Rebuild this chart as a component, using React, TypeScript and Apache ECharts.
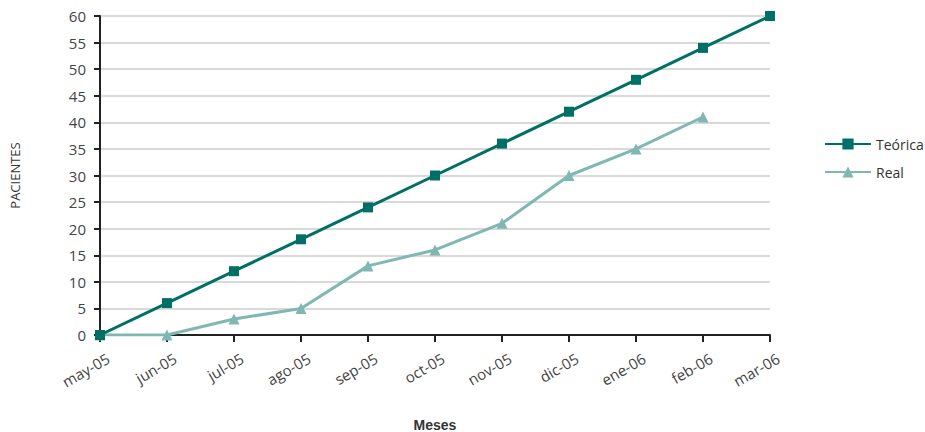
import React, { useEffect, useRef } from "react";
import * as echarts from "echarts";

const months = ["may-05", "jun-05", "jul-05", "ago-05", "sep-05", "oct-05", "nov-05", "dic-05", "ene-06", "feb-06", "mar-06"];
const teorica = [0, 6, 12, 18, 24, 30, 36, 42, 48, 54, 60];
const real = [0, 0, 3, 5, 13, 16, 21, 30, 35, 41];

export default function App() {
  const ref = useRef<HTMLDivElement>(null);
  useEffect(() => {
    const chart = echarts.init(ref.current!, null, { renderer: "svg" });
    chart.setOption({
      animation: false,
      textStyle: { fontFamily: "Open Sans" },
      grid: { left: 100, right: 155, top: 16, bottom: 97, containLabel: false, outerBoundsMode: "none" },
      legend: {
        orient: "vertical",
        left: 819,
        top: 132,
        itemGap: 14,
        itemWidth: 46,
        itemHeight: 14,
        textStyle: { fontSize: 14, color: "#333" },
        data: ["Teórica", "Real"],
      },
      xAxis: {
        type: "category",
        data: months,
        boundaryGap: false,
        name: "Meses",
        nameLocation: "middle",
        nameGap: 83,
        nameTextStyle: { fontWeight: "bold", fontSize: 14, color: "#333", fontFamily: "Liberation Sans" },
        axisLine: { lineStyle: { color: "#222", width: 2 } },
        axisTick: { show: true, length: 7, alignWithLabel: true, lineStyle: { color: "#222", width: 2 } },
        axisLabel: { rotate: 30, fontSize: 15, color: "#444", margin: 18, interval: 0, verticalAlign: "top", padding: [0, -5, 0, 0] },
        splitLine: { show: false },
      },
      yAxis: {
        type: "value",
        min: 0,
        max: 60,
        interval: 5,
        name: "PACIENTES",
        nameLocation: "middle",
        nameGap: 79,
        nameTextStyle: { fontSize: 13, color: "#333" },
        axisLine: { show: true, lineStyle: { color: "#222", width: 2 } },
        axisTick: { show: true, length: 6, lineStyle: { color: "#222", width: 2 } },
        axisLabel: { fontSize: 15, color: "#444", margin: 14 },
        splitLine: { show: true, lineStyle: { color: "#d9d9d9", width: 2 } },
      },
      series: [
        {
          name: "Teórica",
          type: "line",
          data: teorica,
          symbol: "rect",
          symbolSize: 10,
          lineStyle: { color: "#007066", width: 3 },
          itemStyle: { color: "#007066" },
          z: 3,
        },
        {
          name: "Real",
          type: "line",
          data: real,
          symbol: "triangle",
          symbolSize: 11,
          lineStyle: { color: "#7fb8b3", width: 3 },
          itemStyle: { color: "#7fb8b3" },
          z: 2,
        },
      ],
    });
    return () => chart.dispose();
  }, []);
  return <div ref={ref} style={{ width: 925, height: 432, position: "absolute", left: 0, top: 0 }} />;
}
